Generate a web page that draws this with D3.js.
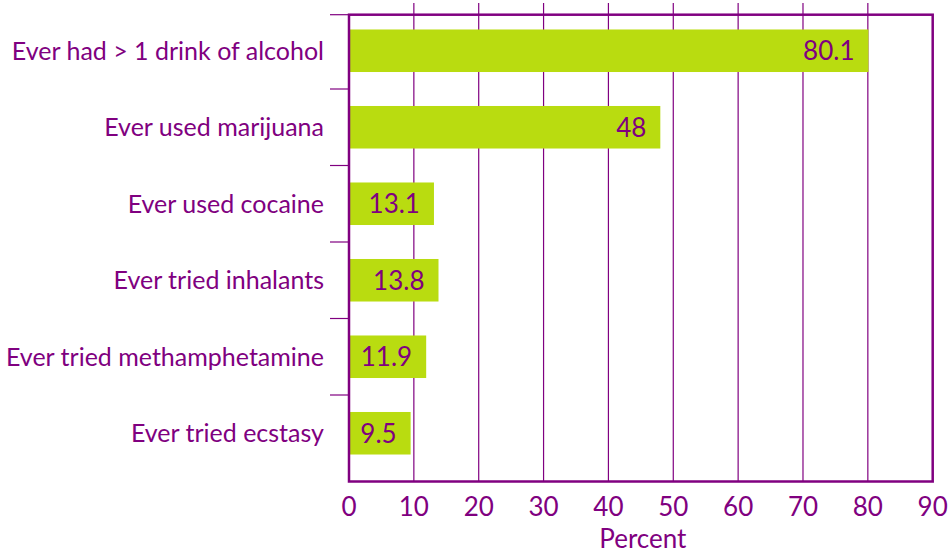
<!DOCTYPE html>
<html>
<head>
<meta charset="utf-8">
<script src="https://cdn.jsdelivr.net/npm/d3@7"></script>
<style>
  html, body { margin: 0; padding: 0; background: #fff; }
  svg { display: block; }
  text { font-family: Lato, "Open Sans", sans-serif; fill: #800080; }
</style>
</head>
<body>
<svg id="chart" width="951" height="552"></svg>
<script>
// Lifetime substance use among students (percent)
const categories = [
  "Ever had > 1 drink of alcohol",
  "Ever used marijuana",
  "Ever used cocaine",
  "Ever tried inhalants",
  "Ever tried methamphetamine",
  "Ever tried ecstasy"
];
const values = [80.1, 48, 13.1, 13.8, 11.9, 9.5];
const valueLabels = ["80.1", "48", "13.1", "13.8", "11.9", "9.5"];
const xTicks = [0, 10, 20, 30, 40, 50, 60, 70, 80, 90];
const xTitle = "Percent";

const purple = "#800080";
const barColor = "#b9dc10";

const svg = d3.select("#chart");

const plot = { left: 349, right: 932.7, top: 14.7, bottom: 481.5 };

const x = d3.scaleLinear().domain([0, 90]).range([plot.left, plot.right]);
const y = d3.scaleBand()
  .domain(categories)
  .range([12.5, 471.5])
  .paddingInner(0.444)
  .paddingOuter(0.222);

// vertical gridlines (they poke a little above the frame)
svg.append("g")
  .selectAll("line")
  .data(xTicks.filter(d => d > 0 && d < 90))
  .join("line")
  .attr("x1", d => x(d)).attr("x2", d => x(d))
  .attr("y1", 3).attr("y2", plot.bottom)
  .attr("stroke", purple)
  .attr("stroke-width", 1.2);

// bars
svg.append("g")
  .selectAll("rect")
  .data(values)
  .join("rect")
  .attr("x", x(0))
  .attr("y", (d, i) => y(categories[i]))
  .attr("width", d => x(d) - x(0))
  .attr("height", y.bandwidth())
  .attr("fill", barColor);

// value labels inside the bar ends
svg.append("g")
  .selectAll("text")
  .data(values)
  .join("text")
  .attr("x", d => x(d) - 14)
  .attr("y", (d, i) => y(categories[i]) + y.bandwidth() / 2)
  .attr("dy", "0.36em")
  .attr("text-anchor", "end")
  .attr("font-size", 26)
  .text((d, i) => valueLabels[i]);

// frame
svg.append("rect")
  .attr("x", plot.left).attr("y", plot.top)
  .attr("width", plot.right - plot.left)
  .attr("height", plot.bottom - plot.top)
  .attr("fill", "none")
  .attr("stroke", purple)
  .attr("stroke-width", 2.5);

// category separators on the left axis
const step = y.step();
const bounds = categories.slice(1).map(c => y(c) - (step - y.bandwidth()) / 2);
svg.append("g")
  .selectAll("line")
  .data([plot.top].concat(bounds))
  .join("line")
  .attr("x1", plot.left - 19).attr("x2", plot.left)
  .attr("y1", d => d).attr("y2", d => d)
  .attr("stroke", purple)
  .attr("stroke-width", 1.2);

// category labels
svg.append("g")
  .selectAll("text")
  .data(categories)
  .join("text")
  .attr("x", 324)
  .attr("y", d => y(d) + y.bandwidth() / 2)
  .attr("dy", "0.36em")
  .attr("text-anchor", "end")
  .attr("font-size", 25)
  .text(d => d);

// x tick labels
svg.append("g")
  .selectAll("text")
  .data(xTicks)
  .join("text")
  .attr("x", d => x(d))
  .attr("y", 515.5)
  .attr("text-anchor", "middle")
  .attr("font-size", 26)
  .text(d => d);

// axis title
svg.append("text")
  .attr("x", (plot.left + plot.right) / 2 + 2)
  .attr("y", 547.5)
  .attr("text-anchor", "middle")
  .attr("font-size", 26)
  .text(xTitle);
</script>
</body>
</html>
